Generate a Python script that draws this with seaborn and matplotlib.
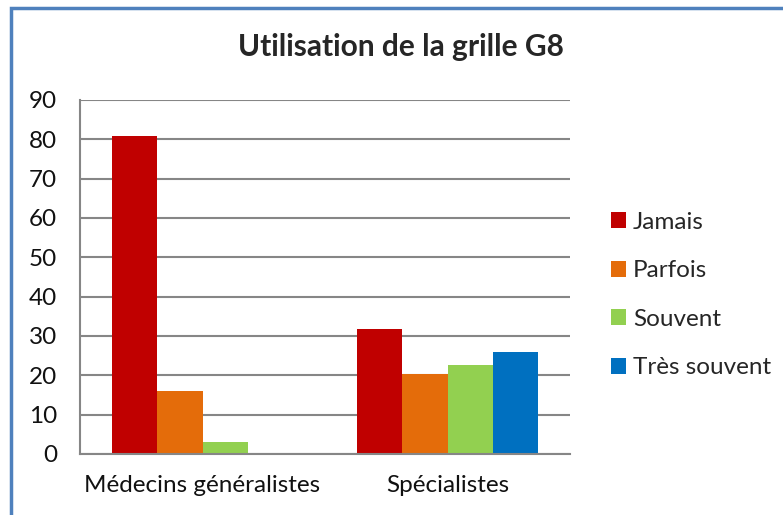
import seaborn as sns
import matplotlib.pyplot as plt
import pandas as pd
from matplotlib.patches import Rectangle

# Data
groups = ["Médecins généralistes", "Spécialistes"]
frequences = ["Jamais", "Parfois", "Souvent", "Très souvent"]
generalistes = [80.8, 16.0, 3.0, 0.0]
specialistes = [31.8, 20.3, 22.6, 25.9]
couleurs = ["#C00000", "#E46C0A", "#92D050", "#0070C0"]

df = pd.DataFrame({
    "groupe": [groups[0]] * 4 + [groups[1]] * 4,
    "frequence": frequences * 2,
    "valeur": generalistes + specialistes,
})

sns.set_style("white")
plt.rcParams["font.family"] = ["Lato", "DejaVu Sans"]

fig = plt.figure(figsize=(7.83, 5.15), dpi=100)
ax = fig.add_axes([80 / 783, 1 - 454 / 515, 490 / 783, 354 / 515])

sns.barplot(data=df, x="groupe", y="valeur", hue="frequence",
            hue_order=frequences, palette=couleurs, width=0.735,
            saturation=1, linewidth=0, ax=ax)

grey = "#868686"
ax.set_ylim(0, 90)
ax.set_yticks(range(0, 91, 10))
ax.yaxis.grid(True, color=grey, linewidth=1.5)
ax.set_axisbelow(True)
for s in ["top", "right"]:
    ax.spines[s].set_visible(False)
for s in ["left", "bottom"]:
    ax.spines[s].set_color(grey)
    ax.spines[s].set_linewidth(1.5)
ax.tick_params(axis="y", length=0, pad=16.5, labelsize=17.5, labelcolor="#111111")
ax.tick_params(axis="x", length=0, pad=15, labelsize=17.5, labelcolor="#111111")
ax.set_xlabel("")
ax.set_ylabel("")

fig.text(401 / 783, 1 - 47 / 515, "Utilisation de la grille G8",
         ha="center", va="center", fontsize=21.5, fontweight="bold")

ax.legend(title=None, loc="center left",
          bbox_to_anchor=(601 / 783, 1 - 295 / 515),
          bbox_transform=fig.transFigure, frameon=False, fontsize=17.5,
          handlelength=0.62, handleheight=0.62, handletextpad=0.3,
          labelspacing=1.13, borderaxespad=0)

# chart border (blue, left and top)
fig.add_artist(Rectangle((11 / 783, -0.2), 1.5, 0.2 + 1 - 8 / 515,
                         transform=fig.transFigure, fill=False,
                         edgecolor="#4F81BD", linewidth=2.5))

fig.savefig("out.png", dpi=100)
